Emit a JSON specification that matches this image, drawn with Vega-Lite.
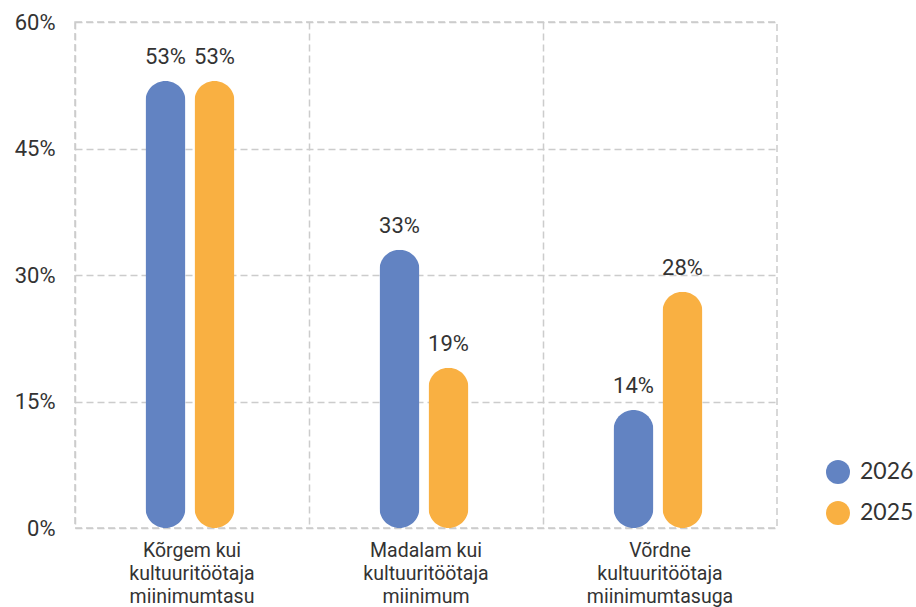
{
  "$schema": "https://vega.github.io/schema/vega-lite/v6.json",
  "width": 702,
  "height": 506,
  "autosize": {"type": "none"},
  "padding": {"left": 75, "top": 22, "right": 139, "bottom": 79},
  "background": "white",
  "config": {
    "view": {"stroke": "#cccccc", "strokeDash": [7, 4], "strokeWidth": 1.5},
    "font": "Roboto"
  },
  "data": {
    "values": [
      {"cat": "Kõrgem kui|kultuuritöötaja|miinimumtasu", "year": "2026", "value": 0.53},
      {"cat": "Kõrgem kui|kultuuritöötaja|miinimumtasu", "year": "2025", "value": 0.53},
      {"cat": "Madalam kui|kultuuritöötaja|miinimum", "year": "2026", "value": 0.33},
      {"cat": "Madalam kui|kultuuritöötaja|miinimum", "year": "2025", "value": 0.19},
      {"cat": "Võrdne|kultuuritöötaja|miinimumtasuga", "year": "2026", "value": 0.14},
      {"cat": "Võrdne|kultuuritöötaja|miinimumtasuga", "year": "2025", "value": 0.28}
    ]
  },
  "encoding": {
    "x": {
      "field": "cat", "type": "nominal", "sort": null, "title": null,
      "scale": {"paddingInner": 0, "paddingOuter": 0},
      "axis": {
        "grid": true, "bandPosition": 0, "gridColor": "#cccccc", "gridDash": [7, 4], "gridWidth": 1.5,
        "domain": false, "ticks": false, "labelAngle": 0,
        "labelExpr": "split(datum.label, '|')",
        "labelFontSize": 19.5, "labelColor": "#333333", "labelLineHeight": 23,
        "labelPadding": 13, "labelFont": "Roboto"
      }
    },
    "xOffset": {
      "field": "year", "type": "nominal", "sort": ["2026", "2025"],
      "scale": {"range": [66, 164], "paddingInner": 0, "paddingOuter": 0}
    },
    "y": {
      "field": "value", "type": "quantitative", "title": null,
      "scale": {"domain": [0, 0.6]},
      "axis": {
        "values": [0, 0.15, 0.3, 0.45, 0.6], "format": ".0%",
        "grid": true, "gridColor": "#cccccc", "gridDash": [7, 4], "gridWidth": 1.5,
        "domain": false, "ticks": false, "labelPadding": 20,
        "labelFontSize": 22, "labelColor": "#333333", "labelFont": "Roboto"
      }
    }
  },
  "layer": [
    {
      "mark": {"type": "bar", "width": 40, "cornerRadius": 20},
      "encoding": {
        "color": {
          "field": "year", "type": "nominal",
          "scale": {"domain": ["2026", "2025"], "range": ["#6283C2", "#F9B042"]},
          "legend": {
            "title": null, "orient": "none", "legendX": 751, "legendY": 438,
            "symbolType": "circle", "symbolSize": 576, "symbolStrokeWidth": 0,
            "labelFontSize": 23, "labelFont": "Lato", "labelColor": "#333333",
            "rowPadding": 17, "labelOffset": 10
          }
        }
      }
    },
    {
      "mark": {"type": "text", "dy": -17, "baseline": "alphabetic", "fontSize": 22, "font": "Roboto"},
      "encoding": {
        "text": {"field": "value", "type": "quantitative", "format": ".0%"},
        "color": {"value": "#333333"}
      }
    }
  ]
}
